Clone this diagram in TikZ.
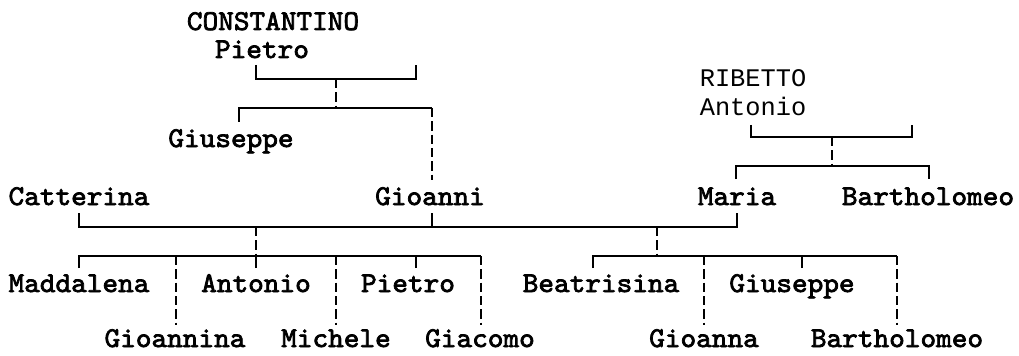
\documentclass[tikz,border=0pt]{standalone}
\usepackage{fontspec}
\usepackage{tikz}
\newfontfamily\namefont{lmmono10-regular}[Extension=.otf,FakeStretch=1.04,FakeBold=2.6]
\newfontfamily\elderfont{Liberation Mono}

\begin{document}
\begin{tikzpicture}[x=0.75pt,y=-0.75pt,
 person/.style={font=\namefont\fontsize{21.5}{24}\selectfont,inner sep=0pt,anchor=base},
 elder/.style={font=\elderfont\fontsize{19}{22}\selectfont,inner sep=0pt,anchor=base},
 link/.style={line width=1pt},
 dlink/.style={line width=1pt,dash pattern=on 7pt off 3pt}]
\useasboundingbox (0,0) rectangle (1019,356);
\node[person] (constantino) at (273,30) {CONSTANTINO};
\node[person] (pietroA) at (262,58) {Pietro};
\node[elder] (ribetto) at (753,87) {RIBETTO};
\node[elder] (antonioA) at (753,116) {Antonio};
\node[person] (giuseppeA) at (231,147) {Giuseppe};
\node[person] (catterina) at (79,205) {Catterina};
\node[person] (gioanni) at (430,205) {Gioanni};
\node[person] (maria) at (737,205) {Maria};
\node[person] (bartholomeoA) at (928,205) {Bartholomeo};
\node[person] (maddalena) at (79,292) {Maddalena};
\node[person] (antonioB) at (256,292) {Antonio};
\node[person] (pietroB) at (408,292) {Pietro};
\node[person] (beatrisina) at (601,292) {Beatrisina};
\node[person] (giuseppeB) at (792,292) {Giuseppe};
\node[person] (gioannina) at (175,347) {Gioannina};
\node[person] (michele) at (336,347) {Michele};
\node[person] (giacomo) at (480,347) {Giacomo};
\node[person] (gioanna) at (704,347) {Gioanna};
\node[person] (bartholomeoB) at (897,347) {Bartholomeo};
\coordinate (pB1) at (256,65);
\coordinate (pB2) at (416,65);
\coordinate (pJ) at (336,79);
\coordinate (pK) at (336,108);
\coordinate (tGiuseppeA) at (239,122);
\coordinate (tGioanni) at (432,180);
\coordinate (rB1) at (751,125);
\coordinate (rB2) at (912,125);
\coordinate (rJ) at (832,137);
\coordinate (rK) at (832,166);
\coordinate (tMaria) at (736,179);
\coordinate (tBartholomeoA) at (929,179);
\coordinate (mC) at (79,213);
\coordinate (mG) at (432,213);
\coordinate (mM) at (737,213);
\coordinate (mJ1) at (256,227);
\coordinate (mJ2) at (657,227);
\coordinate (lK) at (256,256);
\coordinate (rtK) at (657,256);
\coordinate (tMaddalena) at (79,268);
\coordinate (tAntonioB) at (256,268);
\coordinate (tPietroB) at (416,268);
\coordinate (tGioannina) at (176,325);
\coordinate (tMichele) at (336,325);
\coordinate (tGiacomo) at (481,325);
\coordinate (tBeatrisina) at (593,268);
\coordinate (tGiuseppeB) at (802,268);
\coordinate (tGioanna) at (704,325);
\coordinate (tBartholomeoB) at (897,325);
\draw[link] (pB1) |- (pJ) -| (pB2);
\draw[dlink] (pJ) -- (pK);
\draw[link] (tGiuseppeA) |- (pK) -- (pK -| tGioanni);
\draw[dlink] (pK -| tGioanni) -- (tGioanni);
\draw[link] (rB1) |- (rJ) -| (rB2);
\draw[dlink] (rJ) -- (rK);
\draw[link] (tMaria) |- (rK) -| (tBartholomeoA);
\draw[link] (mC) |- (mJ1) -- (mJ2) -| (mM);
\draw[link] (mG) -- (mG |- mJ1);
\draw[dlink] (mJ1) -- (lK);
\draw[dlink] (mJ2) -- (rtK);
\draw[link] (tMaddalena) |- (lK) -- (lK -| tGiacomo);
\draw[link] (tBeatrisina) |- (rtK) -- (rtK -| tBartholomeoB);
\foreach \c in {tAntonioB,tPietroB}
 \draw[link] (\c) -- (\c |- lK);
\foreach \c in {tGiuseppeB}
 \draw[link] (\c) -- (\c |- rtK);
\foreach \c in {tGioannina,tMichele,tGiacomo}
 \draw[dlink] (\c |- lK) -- (\c);
\foreach \c in {tGioanna,tBartholomeoB}
 \draw[dlink] (\c |- rtK) -- (\c);
\end{tikzpicture}
\end{document}
